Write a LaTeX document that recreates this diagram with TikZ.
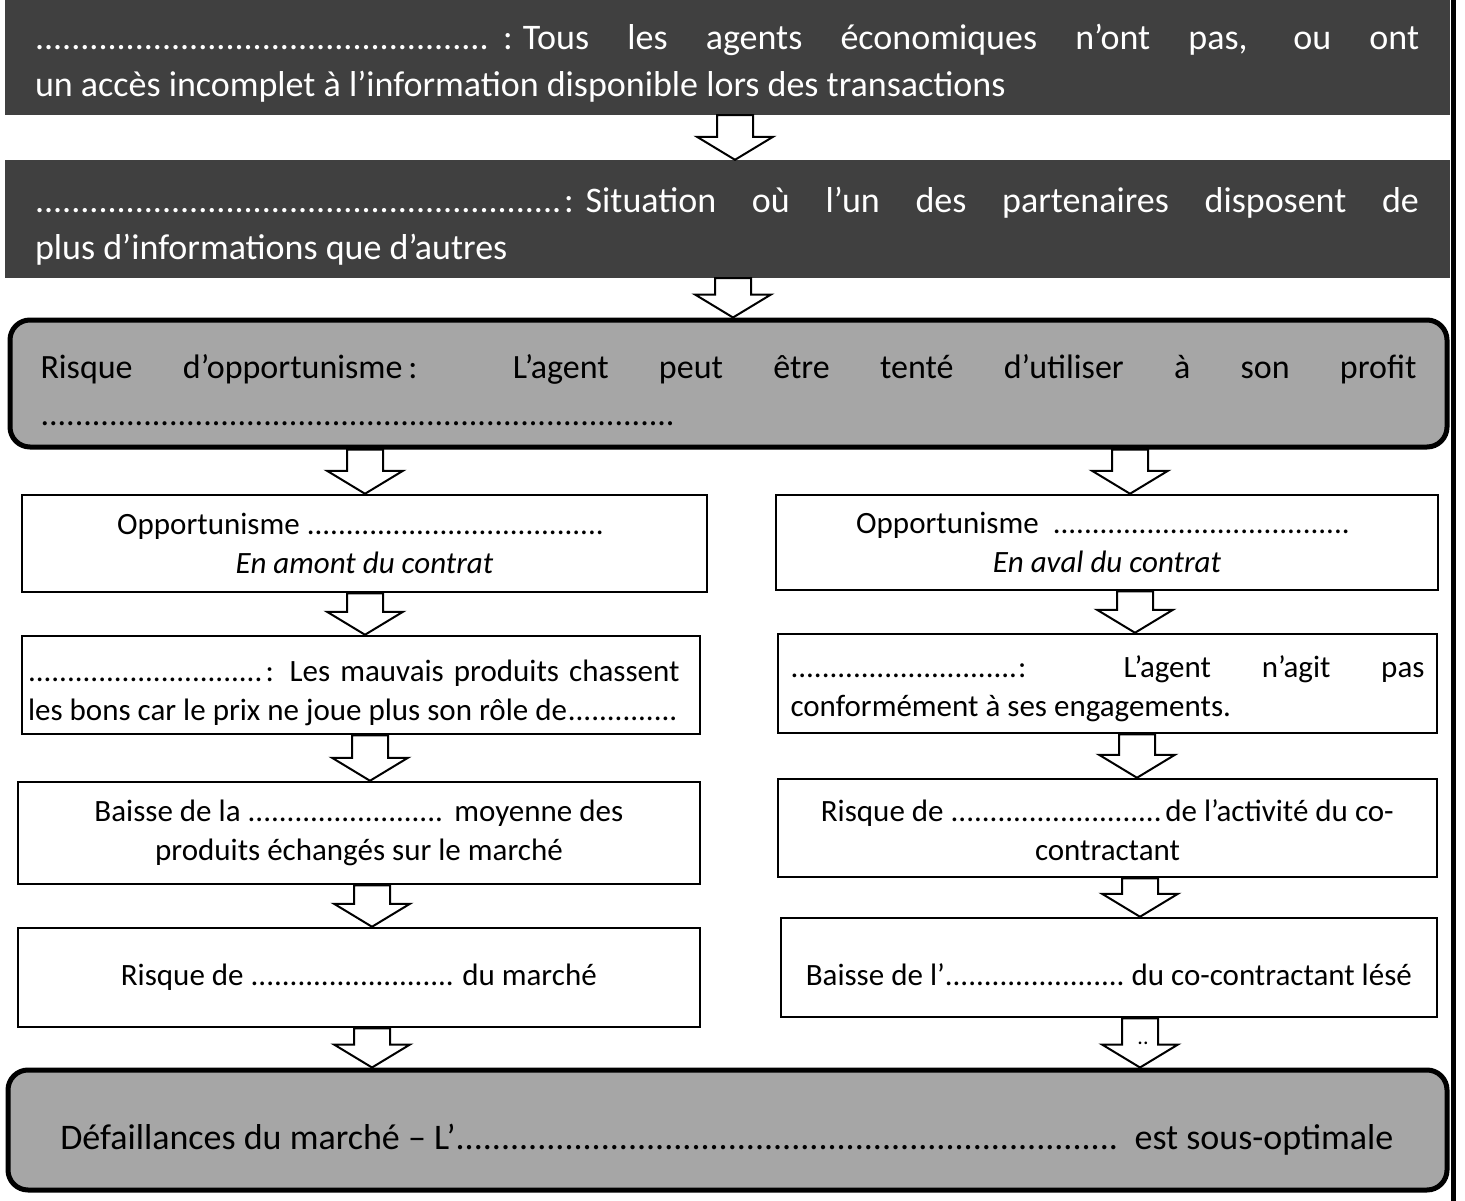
\documentclass[tikz,border=0pt]{standalone}
\usepackage{fontspec}
\setmainfont{Carlito}
\usetikzlibrary{calc}
\definecolor{bardark}{HTML}{404040}
\definecolor{riskgray}{HTML}{A6A6A6}
\newcommand\dfill[1]{\leavevmode\hbox to #1{\leaders\hbox{.}\hfill}}
\newcommand\lowered[2]{\raisebox{-#1}[\height][\depth]{#2}}
\hbadness=10000
\newcommand\barrow[3]{%
  \draw[blockarrow] let \p0=(#1,0), \p1=(#2.south), \p2=(#3.north) in
   (\x0-18pt,\y1) -- (\x0+18pt,\y1) -- (\x0+18pt,\y2+23pt) -- (\x0+38pt,\y2+23pt)
   -- (\x0,\y2) -- (\x0-38pt,\y2+23pt) -- (\x0-18pt,\y2+23pt) -- cycle;}
\begin{document}
\begin{tikzpicture}[x=1pt,y=-1pt,
  bar/.style={fill=bardark, text=white, inner sep=0pt, minimum width=1445pt,
    font=\fontsize{36}{47}\selectfont},
  riskbox/.style={draw=black, line width=5pt, rounded corners=20pt, fill=riskgray,
    inner sep=0pt, text=black},
  stepbox/.style={draw=black, line width=2.5pt, fill=white, inner sep=0pt,
    font=\fontsize{31}{39}\selectfont},
  blockarrow/.style={draw=black, line width=2pt, fill=white, line join=miter}]
\useasboundingbox (0,0) rectangle (1465,1201);
\fill[white] (0,0) rectangle (1465,1201);

\node[bar, minimum height=115pt] (b1) at (727.5,57.5)
  {\lowered{6pt}{\parbox{1385pt}{\dfill{462pt}\hspace{7pt}:\hspace{10pt}Tous les agents économiques n’ont pas, ou ont\linebreak un accès incomplet à l’information disponible lors des transactions}}};
\node[bar, minimum height=118pt] (b2) at (727.5,219)
  {\lowered{7pt}{\parbox{1385pt}{\dfill{530pt}:\hspace{12pt}Situation où l’un des partenaires disposent de\linebreak plus d’informations que d’autres}}};

\node[riskbox, minimum width=1437pt, minimum height=127pt,
  font=\fontsize{34}{47}\selectfont] (risk) at (728.5,383.5)
  {\lowered{7pt}{\parbox{1376pt}{Risque d’opportunisme\hspace{6pt}: L’agent peut être tenté d’utiliser à son profit\linebreak \dfill{638pt}}}};

\node[stepbox, minimum width=685pt, minimum height=97pt, align=center] (l1) at (364.5,543.5)
  {Opportunisme \dfill{305pt}\\\textit{En amont du contrat}};
\node[stepbox, minimum width=662pt, minimum height=95pt, align=center] (r1) at (1107,542.5)
  {Opportunisme\ \ \dfill{305pt}\\\textit{En aval du contrat}};

\node[stepbox, minimum width=678pt, minimum height=98pt] (l2) at (361,685)
  {\hspace*{-14pt}\lowered{8pt}{\parbox{652pt}{\parfillskip=0pt \dfill{238pt}: Les mauvais produits chassent\linebreak les bons car le prix ne joue plus son rôle de\leaders\hbox{.}\hfill\null}}};
\node[stepbox, minimum width=659pt, minimum height=99pt] (r2) at (1107.5,683.5)
  {\lowered{5pt}{\parbox{634pt}{\dfill{228pt}: L’agent n’agit pas\linebreak conformément à ses engagements.}}};

\node[stepbox, minimum width=682pt, minimum height=102pt, align=center] (l3) at (359,833)
  {Baisse de la \dfill{200pt} moyenne des\\produits échangés sur le marché};
\node[stepbox, minimum width=659pt, minimum height=98pt] (r3) at (1107.5,828)
  {\lowered{2pt}{\parbox{640pt}{\centering Risque de \dfill{215pt}de l’activité du co-\\contractant}}};

\node[stepbox, minimum width=682pt, minimum height=99pt] (l4) at (359,977.5)
  {Risque de \dfill{205pt} du marché};
\node[stepbox, minimum width=656pt, minimum height=99pt] (r4) at (1109,967.5)
  {\lowered{7pt}{Baisse de l’\dfill{180pt} du co-contractant lésé}};

\node[riskbox, minimum width=1439pt, minimum height=120pt,
  font=\fontsize{36}{46}\selectfont] (fail) at (727.5,1130)
  {\lowered{10pt}{Défaillances du marché – L’\dfill{672pt} est sous-optimale}};

\barrow{735}{b1}{b2}
\barrow{733}{b2}{risk}
\barrow{365}{risk}{l1}
\barrow{1130}{risk}{r1}
\barrow{365}{l1}{l2}
\barrow{1135}{r1}{r2}
\barrow{370}{l2}{l3}
\barrow{1137}{r2}{r3}
\barrow{372}{l3}{l4}
\barrow{1140}{r3}{r4}
\barrow{372}{l4}{fail}
\barrow{1140}{r4}{fail}
\node[font=\fontsize{22}{22}\selectfont, inner sep=0pt] (dd) at (1143,1043) {..};

\fill[black] (1451,0) rectangle (1456,1201);
\end{tikzpicture}
\end{document}
